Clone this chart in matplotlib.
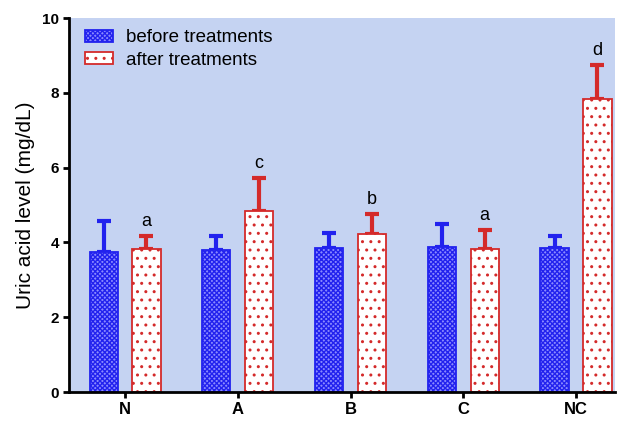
import matplotlib.pyplot as plt
import numpy as np

groups = ['N', 'A', 'B', 'C', 'NC']
before = [3.74, 3.80, 3.85, 3.88, 3.85]
before_err = [0.83, 0.37, 0.40, 0.61, 0.32]
after = [3.82, 4.84, 4.22, 3.82, 7.83]
after_err = [0.35, 0.88, 0.54, 0.51, 0.91]
letters = ['a', 'c', 'b', 'a', 'd']

plt.rcParams['font.family'] = ['Liberation Sans', 'DejaVu Sans']
plt.rcParams['hatch.linewidth'] = 1.0

fig = plt.figure(figsize=(6.3, 4.22), dpi=100)
ax = fig.add_axes([69 / 630, 30 / 422, 546 / 630, 374 / 422])
ax.set_facecolor('#c5d3f2')

blue = '#2222ee'
red = '#d42a2a'
x = np.arange(len(groups))
off = 0.19
w = 0.25

ax.bar(x - off, before, w, color='#8a8aff', edgecolor=blue, hatch='xxxxxxx',
       linewidth=1.3, label='before treatments', zorder=2)
ax.errorbar(x - off, before, yerr=[np.zeros(5), before_err], fmt='none',
            ecolor=blue, elinewidth=3, capsize=5, capthick=3, zorder=1)

ax.bar(x + off, after, w, color='white', edgecolor=red, hatch='..',
       linewidth=1.3, label='after treatments', zorder=2)
ax.errorbar(x + off, after, yerr=[np.zeros(5), after_err], fmt='none',
            ecolor=red, elinewidth=3, capsize=5, capthick=3, zorder=1)

for i in range(len(groups)):
    ax.text(x[i] + off, after[i] + after_err[i] + 0.17, letters[i],
            ha='center', va='bottom', fontsize=13)

ax.set_xlim(-0.497, 4.346)
ax.set_ylim(0, 10)
ax.set_yticks([0, 2, 4, 6, 8, 10])
ax.set_xticks(x)
ax.set_xticklabels(groups, fontweight='bold', fontsize=12)
for lab in ax.get_yticklabels():
    lab.set_fontweight('bold')
    lab.set_fontsize(11)
ax.set_ylabel('Uric acid level (mg/dL)', fontsize=15, labelpad=5)

ax.spines['top'].set_visible(False)
ax.spines['right'].set_visible(False)
ax.spines['left'].set_linewidth(2)
ax.spines['bottom'].set_linewidth(2)
ax.tick_params(width=2, length=4, pad=3)

ax.legend(loc='upper left', bbox_to_anchor=(0.03, 0.97), frameon=False,
          fontsize=13.5, handlelength=1.45, handleheight=0.6,
          handletextpad=0.7, borderaxespad=0, borderpad=0, labelspacing=0.3)

fig.savefig('out.png', dpi=100, facecolor='white')
